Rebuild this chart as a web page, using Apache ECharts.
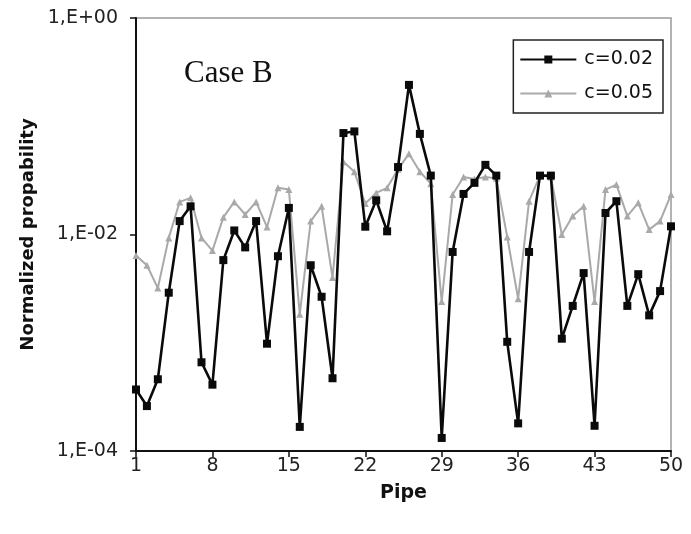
<!DOCTYPE html>
<html>
<head>
<meta charset="utf-8">
<script src="https://cdn.jsdelivr.net/npm/echarts@6/dist/echarts.min.js"></script>
<style>
  html, body { margin: 0; padding: 0; background: #fff; }
  #chart { width: 691px; height: 534px; }
</style>
</head>
<body>
<div id="chart"></div>
<script>
// Pipe numbers along the horizontal axis
const pipes = ['1','2','3','4','5','6','7','8','9','10',
  '11','12','13','14','15','16','17','18','19','20',
  '21','22','23','24','25','26','27','28','29','30',
  '31','32','33','34','35','36','37','38','39','40',
  '41','42','43','44','45','46','47','48','49','50'];

// Normalized probability per pipe, c = 0.02
const c002 = [3.7e-4, 2.6e-4, 4.6e-4, 2.9e-3, 0.0133, 0.0182, 6.6e-4, 4.1e-4, 5.8e-3, 0.0109,
  7.6e-3, 0.0133, 9.8e-4, 6.3e-3, 0.0176, 1.67e-4, 5.2e-3, 2.66e-3, 4.7e-4, 0.0865,
  0.0896, 0.0118, 0.0207, 0.0107, 0.042, 0.241, 0.085, 0.035, 1.32e-4, 6.9e-3,
  0.0237, 0.030, 0.044, 0.035, 1.02e-3, 1.8e-4, 6.9e-3, 0.035, 0.035, 1.09e-3,
  2.19e-3, 4.4e-3, 1.71e-4, 0.0158, 0.0203, 2.19e-3, 4.3e-3, 1.79e-3, 3.0e-3, 0.0119];

// Normalized probability per pipe, c = 0.05
const c005 = [6.4e-3, 5.2e-3, 3.2e-3, 9.3e-3, 0.020, 0.0218, 9.3e-3, 7.1e-3, 0.0144, 0.020,
  0.0153, 0.020, 0.0117, 0.027, 0.026, 1.83e-3, 0.0133, 0.0182, 4.0e-3, 0.047,
  0.038, 0.0193, 0.0242, 0.027, 0.040, 0.0558, 0.038, 0.0295, 2.4e-3, 0.0234,
  0.034, 0.0326, 0.034, 0.033, 9.5e-3, 2.55e-3, 0.0203, 0.035, 0.034, 0.010,
  0.0148, 0.0182, 2.4e-3, 0.026, 0.0289, 0.0148, 0.0196, 0.0111, 0.0133, 0.0234];

// Tick labels of the log axis, keyed by decade exponent
const yTickLabels = { '-4': '1,E-04', '-2': '1,E-02', '0': '1,E+00' };

const seriesNames = ['c=0.02', 'c=0.05'];

const chart = echarts.init(document.getElementById('chart'), null, { renderer: 'canvas' });

const font = 'DejaVu Sans, Verdana, sans-serif';

chart.setOption({
  animation: false,
  backgroundColor: '#fff',
  grid: {
    left: 136, right: 20, top: 18, bottom: 83,
    show: true, borderColor: '#9a9a9a', borderWidth: 1.5
  },
  title: {
    text: 'Case B',
    left: 179, top: 53,
    textStyle: { fontFamily: 'Liberation Serif, Times New Roman, serif', fontSize: 31, fontWeight: 'normal', color: '#111' }
  },
  legend: {
    data: seriesNames,
    orient: 'vertical',
    right: 28, top: 40,
    backgroundColor: '#fff',
    borderColor: '#222', borderWidth: 1.5,
    padding: [10, 10, 10, 6],
    itemGap: 15,
    itemWidth: 56, itemHeight: 10,
    textStyle: { fontFamily: font, fontSize: 19, color: '#111', padding: [0, 0, 0, 3] }
  },
  xAxis: {
    type: 'category',
    data: pipes,
    boundaryGap: false,
    name: 'Pipe',
    nameLocation: 'middle',
    nameGap: 33,
    nameTextStyle: { fontFamily: font, fontSize: 19, fontWeight: 'bold', color: '#111' },
    axisLine: { lineStyle: { color: '#111', width: 2 } },
    axisTick: { interval: 6, length: 6, inside: false, lineStyle: { color: '#111', width: 1.5 } },
    axisLabel: { interval: 6, fontFamily: font, fontSize: 19, color: '#222', margin: 6 },
    splitLine: { show: false }
  },
  yAxis: {
    type: 'log',
    logBase: 10,
    min: 1e-4, max: 1,
    interval: 2,
    name: 'Normalized propability',
    nameLocation: 'middle',
    nameGap: 83,
    nameRotate: 90,
    nameTextStyle: { fontFamily: font, fontSize: 18, fontWeight: 'bold', color: '#111' },
    axisLine: { show: true, lineStyle: { color: '#111', width: 2 } },
    axisTick: { show: true, length: 6, lineStyle: { color: '#111', width: 1.5 } },
    minorTick: { show: false },
    axisLabel: {
      fontFamily: font, fontSize: 19, color: '#222', margin: 18,
      formatter: function (v) {
        const e = Math.round(Math.log10(v));
        return yTickLabels[String(e)] || '';
      }
    },
    splitLine: { show: false }
  },
  series: [
    {
      name: seriesNames[0],
      type: 'line',
      data: c002,
      z: 3,
      symbol: 'rect',
      symbolSize: 8,
      showAllSymbol: true,
      itemStyle: { color: '#0a0a0a' },
      lineStyle: { color: '#0a0a0a', width: 2.6 }
    },
    {
      name: seriesNames[1],
      type: 'line',
      data: c005,
      z: 2,
      symbol: 'triangle',
      symbolSize: 7,
      showAllSymbol: true,
      itemStyle: { color: '#a9a9a9' },
      lineStyle: { color: '#a9a9a9', width: 2 }
    }
  ]
});
</script>
</body>
</html>
